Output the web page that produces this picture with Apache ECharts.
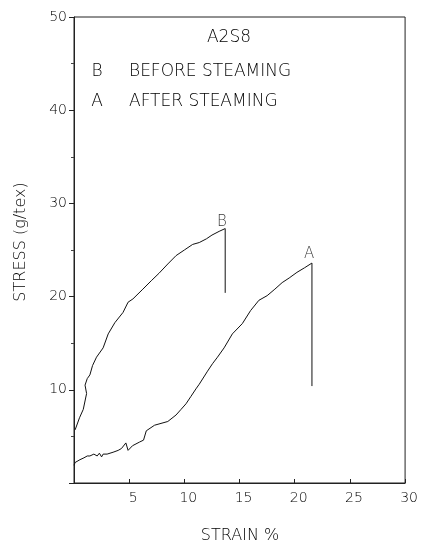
<!DOCTYPE html>
<html>
<head>
<meta charset="utf-8">
<script src="https://cdn.jsdelivr.net/npm/echarts@6/dist/echarts.min.js"></script>
<style>
html,body{margin:0;padding:0;background:#fff;}
#c{width:421px;height:547px;}
</style>
</head>
<body>
<div id="c"></div>
<script>
// Strain (%) / stress (g/tex)
const curveB = [
  [0.1, 5.7], [0.5, 7.0], [0.84, 7.9], [1.14, 9.6], [1.0, 10.5], [1.2, 11.2],
  [1.44, 11.6], [1.68, 12.6], [2.04, 13.5], [2.64, 14.5], [3.1, 16.0],
  [3.7, 17.2], [4.44, 18.3], [4.9, 19.4], [5.34, 19.75], [6.24, 20.8],
  [7.0, 21.7], [7.7, 22.5], [8.5, 23.5], [9.25, 24.4], [10.0, 25.0],
  [10.75, 25.6], [11.35, 25.8], [12.0, 26.2], [12.5, 26.6], [13.15, 27.0],
  [13.7, 27.3], [13.7, 20.4]
];
const curveA = [
  [0, 1.9], [0.1, 2.2], [0.54, 2.5], [0.9, 2.7], [1.2, 2.9], [1.44, 2.9],
  [1.8, 3.1], [2.1, 2.9], [2.3, 3.2], [2.5, 2.8], [2.64, 3.1], [3.0, 3.1],
  [3.54, 3.3], [4.0, 3.5], [4.3, 3.7], [4.7, 4.3], [4.9, 3.5], [5.3, 4.0],
  [5.95, 4.4], [6.3, 4.6], [6.55, 5.6], [7.3, 6.2], [8.5, 6.6], [9.25, 7.3],
  [9.7, 7.9], [10.15, 8.5], [10.6, 9.3], [11.05, 10.1], [11.35, 10.6],
  [12.1, 12.0], [12.55, 12.8], [13.0, 13.5], [13.6, 14.5], [14.35, 16.0],
  [15.25, 17.1], [16.0, 18.5], [16.75, 19.6], [17.5, 20.1], [18.2, 20.8],
  [18.86, 21.5], [19.5, 22.0], [20.2, 22.6], [20.9, 23.1], [21.56, 23.6],
  [21.56, 10.4]
];
const curveLabels = [
  { name: 'B', value: [13.4, 28.0] },
  { name: 'A', value: [21.3, 24.6] }
];
const titleText = 'A2S8';
const legendRows = [['B', 'BEFORE STEAMING'], ['A', 'AFTER STEAMING']];
const xAxisTitle = 'STRAIN %';
const yAxisTitle = 'STRESS (g/tex)';

const FONT = 'DejaVu Sans';
const INK = '#000';
const LIGHT = '200';

const chart = echarts.init(document.getElementById('c'), null, { renderer: 'canvas' });

const graphics = [
  { type: 'text', x: 229, y: 38, style: { text: titleText, fill: INK, font: LIGHT + ' 17px "DejaVu Sans"', textAlign: 'center', textVerticalAlign: 'middle' } }
];
legendRows.forEach((r, i) => {
  graphics.push({ type: 'text', x: 97, y: 72 + i * 30, style: { text: r[0], fill: INK, font: LIGHT + ' 17px "DejaVu Sans"', textAlign: 'center', textVerticalAlign: 'middle' } });
  graphics.push({ type: 'text', x: 129, y: 72 + i * 30, style: { text: r[1], fill: INK, font: LIGHT + ' 17px "DejaVu Sans"', textAlign: 'left', textVerticalAlign: 'middle' } });
});
graphics.push({ type: 'text', x: 240, y: 536, style: { text: xAxisTitle, fill: INK, font: LIGHT + ' 16px "DejaVu Sans"', textAlign: 'center', textVerticalAlign: 'middle' } });
graphics.push({ type: 'text', x: 21, y: 242, rotation: Math.PI / 2, style: { text: yAxisTitle, fill: INK, font: LIGHT + ' 16px "DejaVu Sans"', textAlign: 'center', textVerticalAlign: 'middle' } });

chart.setOption({
  backgroundColor: '#fff',
  animation: false,
  grid: { left: 74, right: 14, top: 17, bottom: 64, show: true, borderColor: '#222', borderWidth: 1 },
  xAxis: {
    type: 'value', min: 0, max: 30, interval: 5,
    axisLine: { lineStyle: { color: '#222', width: 1 } },
    axisTick: { inside: true, length: 4, lineStyle: { color: '#222' } },
    axisLabel: {
      color: INK, fontFamily: FONT, fontWeight: 200, fontSize: 14, margin: 8,
      padding: [0, 0, 0, 8],
      formatter: v => (v === 0 ? '' : String(v))
    },
    splitLine: { show: false }
  },
  yAxis: {
    type: 'value', min: 0, max: 50, interval: 10,
    axisLine: { show: true, lineStyle: { color: '#222', width: 1 } },
    axisTick: { show: true, length: 5, lineStyle: { color: '#222' } },
    minorTick: { show: true, splitNumber: 2, length: 3, lineStyle: { color: '#444' } },
    axisLabel: {
      color: INK, fontFamily: FONT, fontWeight: 200, fontSize: 14, margin: 7,
      formatter: v => (v === 0 ? '' : String(v))
    },
    splitLine: { show: false }
  },
  series: [
    {
      type: 'line', data: curveB, showSymbol: false, symbol: 'none',
      lineStyle: { color: '#111', width: 1 }
    },
    {
      type: 'line', data: curveA, showSymbol: false, symbol: 'none',
      lineStyle: { color: '#111', width: 1 }
    },
    {
      type: 'scatter', data: curveLabels, symbolSize: 0,
      itemStyle: { color: '#000' },
      label: {
        show: true, position: 'inside', formatter: p => p.name,
        color: '#000', fontFamily: FONT, fontWeight: 200, fontSize: 15,
        textBorderWidth: 0, textBorderColor: 'transparent'
      },
      emphasis: { disabled: true }
    }
  ],
  graphic: graphics
});
</script>
</body>
</html>
